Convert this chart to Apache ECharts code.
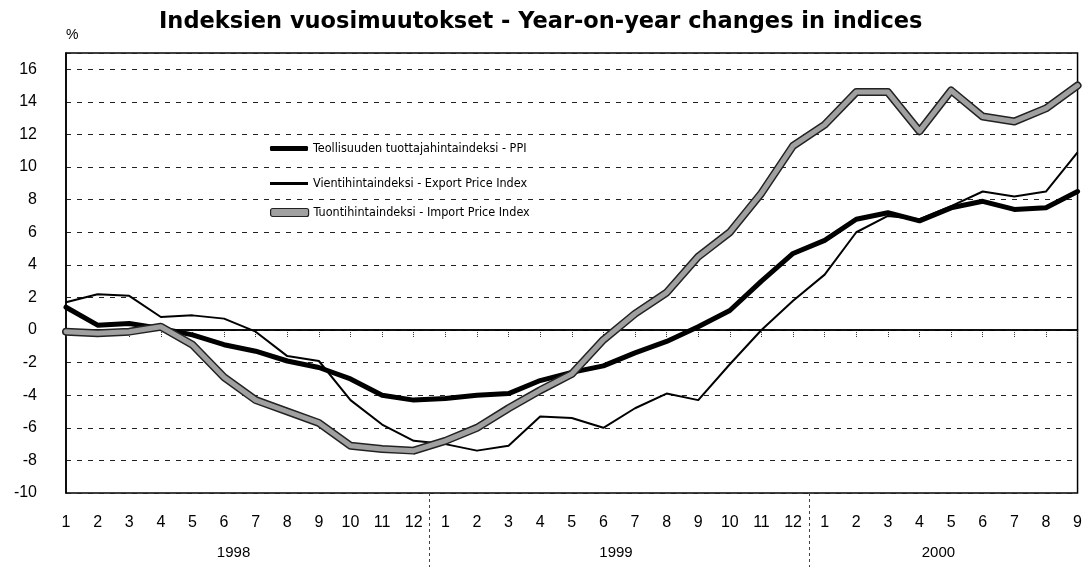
<!DOCTYPE html>
<html>
<head>
<meta charset="utf-8">
<script src="https://cdn.jsdelivr.net/npm/echarts@6/dist/echarts.min.js"></script>
<style>
  html, body { margin: 0; padding: 0; background: #fff; }
  #main { width: 1085px; height: 567px; }
</style>
</head>
<body>
<div id="main"></div>
<script>
// --- data (monthly, 1/1998 .. 9/2000) ---
const months = ['1','2','3','4','5','6','7','8','9','10','11','12',
                '1','2','3','4','5','6','7','8','9','10','11','12',
                '1','2','3','4','5','6','7','8','9'];
const years = ['1998', '1999', '2000'];
const yearLabelAt = [5.3, 17.4, 27.6];   // month index under which the year label sits
const yearSplitAt = [11.5, 23.5];        // dashed year separators

const ppi = [1.4, 0.3, 0.4, 0.1, -0.3, -0.9, -1.3, -1.9, -2.3, -3.0, -4.0, -4.3,
             -4.2, -4.0, -3.9, -3.1, -2.6, -2.2, -1.4, -0.7, 0.2, 1.2, 3.0, 4.7,
             5.5, 6.8, 7.2, 6.7, 7.5, 7.9, 7.4, 7.5, 8.5];
const exportIdx = [1.7, 2.2, 2.1, 0.8, 0.9, 0.7, -0.1, -1.6, -1.9, -4.3, -5.8, -6.8,
                   -7.0, -7.4, -7.1, -5.3, -5.4, -6.0, -4.8, -3.9, -4.3, -2.1, 0.0, 1.8,
                   3.4, 6.0, 7.0, 6.8, 7.6, 8.5, 8.2, 8.5, 10.9];
const importIdx = [-0.1, -0.2, -0.1, 0.2, -0.9, -2.9, -4.3, -5.0, -5.7, -7.1, -7.3, -7.4,
                   -6.8, -6.0, -4.8, -3.7, -2.7, -0.6, 1.0, 2.3, 4.5, 6.0, 8.4, 11.3,
                   12.6, 14.6, 14.6, 12.2, 14.7, 13.1, 12.8, 13.6, 15.0];

const names = [
  'Teollisuuden tuottajahintaindeksi - PPI',
  'Vientihintaindeksi - Export Price Index',
  'Tuontihintaindeksi - Import Price Index'
];

const FONT = "'Liberation Sans', Arial, sans-serif";
const NARROW = "'Liberation Sans Narrow', 'Arial Narrow', 'DejaVu Sans Condensed', sans-serif";

function legendRow(name, top, h, style) {
  return {
    data: [name],
    orient: 'vertical',
    left: 270,
    top: top,
    padding: 0,
    itemWidth: 38,
    itemHeight: h,
    itemGap: 4,
    icon: style.icon,
    itemStyle: style.itemStyle,
    selectedMode: false,
    textStyle: { fontFamily: NARROW, fontSize: 12.5, color: '#000', padding: [0, 0, 0, 0] }
  };
}

const chart = echarts.init(document.getElementById('main'));

chart.setOption({
  animation: false,
  backgroundColor: '#fff',
  title: {
    text: 'Indeksien vuosimuutokset - Year-on-year changes in indices',
    left: 154,
    top: 6,
    textStyle: { fontFamily: "'DejaVu Sans', sans-serif", fontSize: 22.5, fontWeight: 'bold', color: '#000' }
  },
  legend: [
    legendRow(names[0], 142, 5, { icon: 'roundRect', itemStyle: { color: '#000', borderWidth: 0 } }),
    legendRow(names[1], 177, 3, { icon: 'rect', itemStyle: { color: '#000', borderWidth: 0 } }),
    legendRow(names[2], 206, 8, { icon: 'roundRect', itemStyle: { color: '#a0a0a0', borderColor: '#222', borderWidth: 1.2 } })
  ],
  grid: {
    left: 66, right: 3, top: 53, bottom: 74,
    show: true, borderColor: '#000', borderWidth: 1.5, backgroundColor: 'transparent'
  },
  xAxis: [
    {
      type: 'category',
      data: months,
      boundaryGap: false,
      axisLine: { lineStyle: { color: '#000', width: 1.5 } },
      axisTick: { show: true, interval: 0, length: 8, lineStyle: { color: '#333', type: 'dotted' } },
      axisLabel: { interval: 0, margin: 22, fontFamily: FONT, fontSize: 16, color: '#000' },
      splitLine: { show: false }
    },
    {
      type: 'value',
      position: 'bottom',
      min: 0,
      max: months.length - 1,
      axisLine: { show: false },
      axisTick: {
        show: true, customValues: yearSplitAt, length: 74,
        lineStyle: { color: '#444', width: 1, type: [3, 3] }
      },
      axisLabel: {
        customValues: yearLabelAt,
        margin: 52,
        fontFamily: FONT, fontSize: 15, color: '#000',
        formatter: (v) => years[yearLabelAt.indexOf(v)]
      },
      splitLine: { show: false }
    }
  ],
  yAxis: {
    type: 'value',
    min: -10,
    max: 17,
    interval: 2,
    name: '%',
    nameLocation: 'end',
    nameGap: 11,
    nameTextStyle: { fontFamily: FONT, fontSize: 14, color: '#000', align: 'left' },
    axisLine: { show: true, lineStyle: { color: '#000', width: 1.5 } },
    axisTick: { show: false },
    axisLabel: { showMaxLabel: false, margin: 29, fontFamily: FONT, fontSize: 16, color: '#000' },
    splitLine: { show: true, lineStyle: { color: '#222', width: 1, type: [5, 6] } }
  },
  series: [
    {
      name: names[0],
      type: 'line',
      data: ppi,
      showSymbol: false,
      symbol: 'none',
      color: '#000',
      lineStyle: { color: '#000', width: 5, cap: 'round', join: 'round' },
      markLine: {
        silent: true,
        symbol: 'none',
        label: { show: false },
        lineStyle: { color: '#000', width: 1.5, type: 'solid' },
        data: [{ yAxis: 0 }]
      },
      z: 3
    },
    {
      name: names[1],
      type: 'line',
      data: exportIdx,
      showSymbol: false,
      symbol: 'none',
      color: '#000',
      lineStyle: { color: '#000', width: 2, join: 'round' },
      z: 4
    },
    {
      // dark edge under the grey import band
      name: 'import-edge',
      type: 'line',
      data: importIdx,
      showSymbol: false,
      symbol: 'none',
      lineStyle: { color: '#222', width: 8, cap: 'round', join: 'round' },
      z: 5
    },
    {
      name: names[2],
      type: 'line',
      data: importIdx,
      showSymbol: false,
      symbol: 'none',
      color: '#a0a0a0',
      lineStyle: { color: '#a0a0a0', width: 5, cap: 'round', join: 'round' },
      z: 6
    }
  ]
});
</script>
</body>
</html>
